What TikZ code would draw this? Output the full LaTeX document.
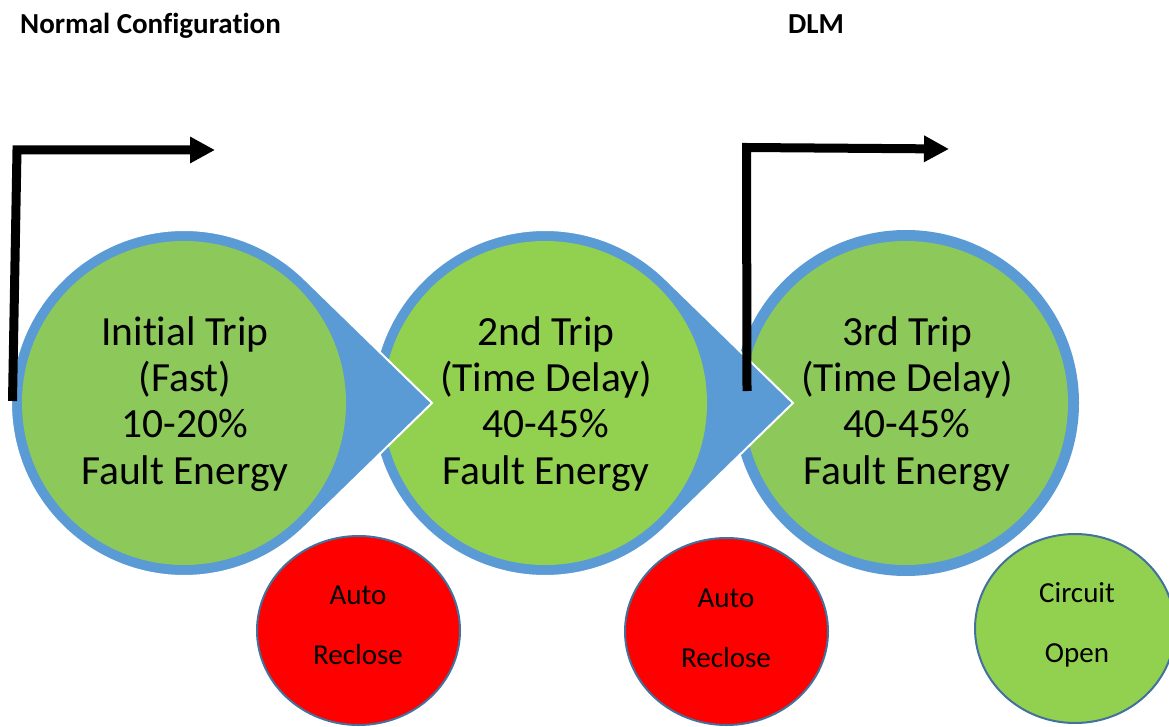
\documentclass[tikz,border=0pt]{standalone}
\usepackage{fontspec}
\setmainfont{Carlito}[Ligatures=NoCommon]
\usetikzlibrary{arrows.meta}
\definecolor{ringblue}{HTML}{5B9BD5}
\definecolor{greenA}{RGB}{141,200,90}
\definecolor{greenB}{HTML}{92D050}
\definecolor{edgeblue}{HTML}{41719C}
\definecolor{redfill}{HTML}{FF0000}
\tikzset{
  bigtext/.style={font=\fontsize{41.5}{46.3}\selectfont, align=center, inner sep=0, anchor=base},
  smalltext/.style={font=\fontsize{29}{60}\selectfont, align=center, inner sep=0, anchor=base},
  titletext/.style={font=\bfseries\fontsize{29}{34}\selectfont, inner sep=0, anchor=base west},
  drop/.style={fill=ringblue, draw=white, line width=2},
  ring/.style={fill=ringblue},
  core/.style={circle, inner sep=0, minimum size=324},
  smallcirc/.style={draw=edgeblue, line width=2},
  bentarrow/.style={line width=9, line join=miter, -{Triangle[length=25pt, width=25pt]}},
}
\begin{document}
\begin{tikzpicture}[x=1pt, y=-1pt]
\useasboundingbox (0,0) rectangle (1169,727);
% titles
\node[titletext] (tnormal) at (20,34) {Normal Configuration};
\node[titletext] (tdlm) at (788,34) {DLM};
% third stage (drawn first)
\fill[ring] (906,403) circle[radius=173];
\node[core, fill=greenA] (c3) at (906,403) {};
% second stage
\path[drop] (793,403) -- ([shift={(-46:173)}]545,403) arc[start angle=-46, end angle=-314, radius=173] -- cycle;
\node[core, fill=greenB] (c2) at (545,403) {};
% first stage
\path[drop] (432,403) -- ([shift={(-46:173)}]184,403) arc[start angle=-46, end angle=-314, radius=173] -- cycle;
\node[core, fill=greenA] (c1) at (184,403) {};
% texts (base anchor = baseline of last line)
\node[bigtext] (l1) at (185,484) {Initial Trip\\(Fast)\\10-20\%\\Fault Energy};
\node[bigtext] (l2) at (546,484) {2nd Trip\\(Time Delay)\\40-45\%\\Fault Energy};
\node[bigtext] (l3) at (907,484) {3rd Trip\\(Time Delay)\\40-45\%\\Fault Energy};
% small circles
\path[smallcirc, fill=redfill] (358.5,630.5) ellipse[x radius=101.5, y radius=94.5];
\path[smallcirc, fill=redfill] (726.5,631.5) ellipse[x radius=101.5, y radius=93.5];
\path[smallcirc, fill=greenB] (1075,628.5) ellipse[x radius=100, y radius=94.5];
\node[smalltext] (s1) at (358,664) {Auto\\Reclose};
\node[smalltext] (s2) at (726,667) {Auto\\Reclose};
\node[smalltext] (s3) at (1077,662) {Circuit\\Open};
% bent arrows
\coordinate (a1s) at (12.5,401);
\coordinate (a1c) at (17,150);
\coordinate (a1e) at (215,150);
\draw[bentarrow] (a1s) -- (a1c) -- (a1e);
\coordinate (a2s) at (747,391);
\coordinate (a2c) at (746.5,147.5);
\coordinate (a2e) at (949,149);
\draw[bentarrow] (a2s) -- (a2c) -- (a2e);
\end{tikzpicture}
\end{document}
